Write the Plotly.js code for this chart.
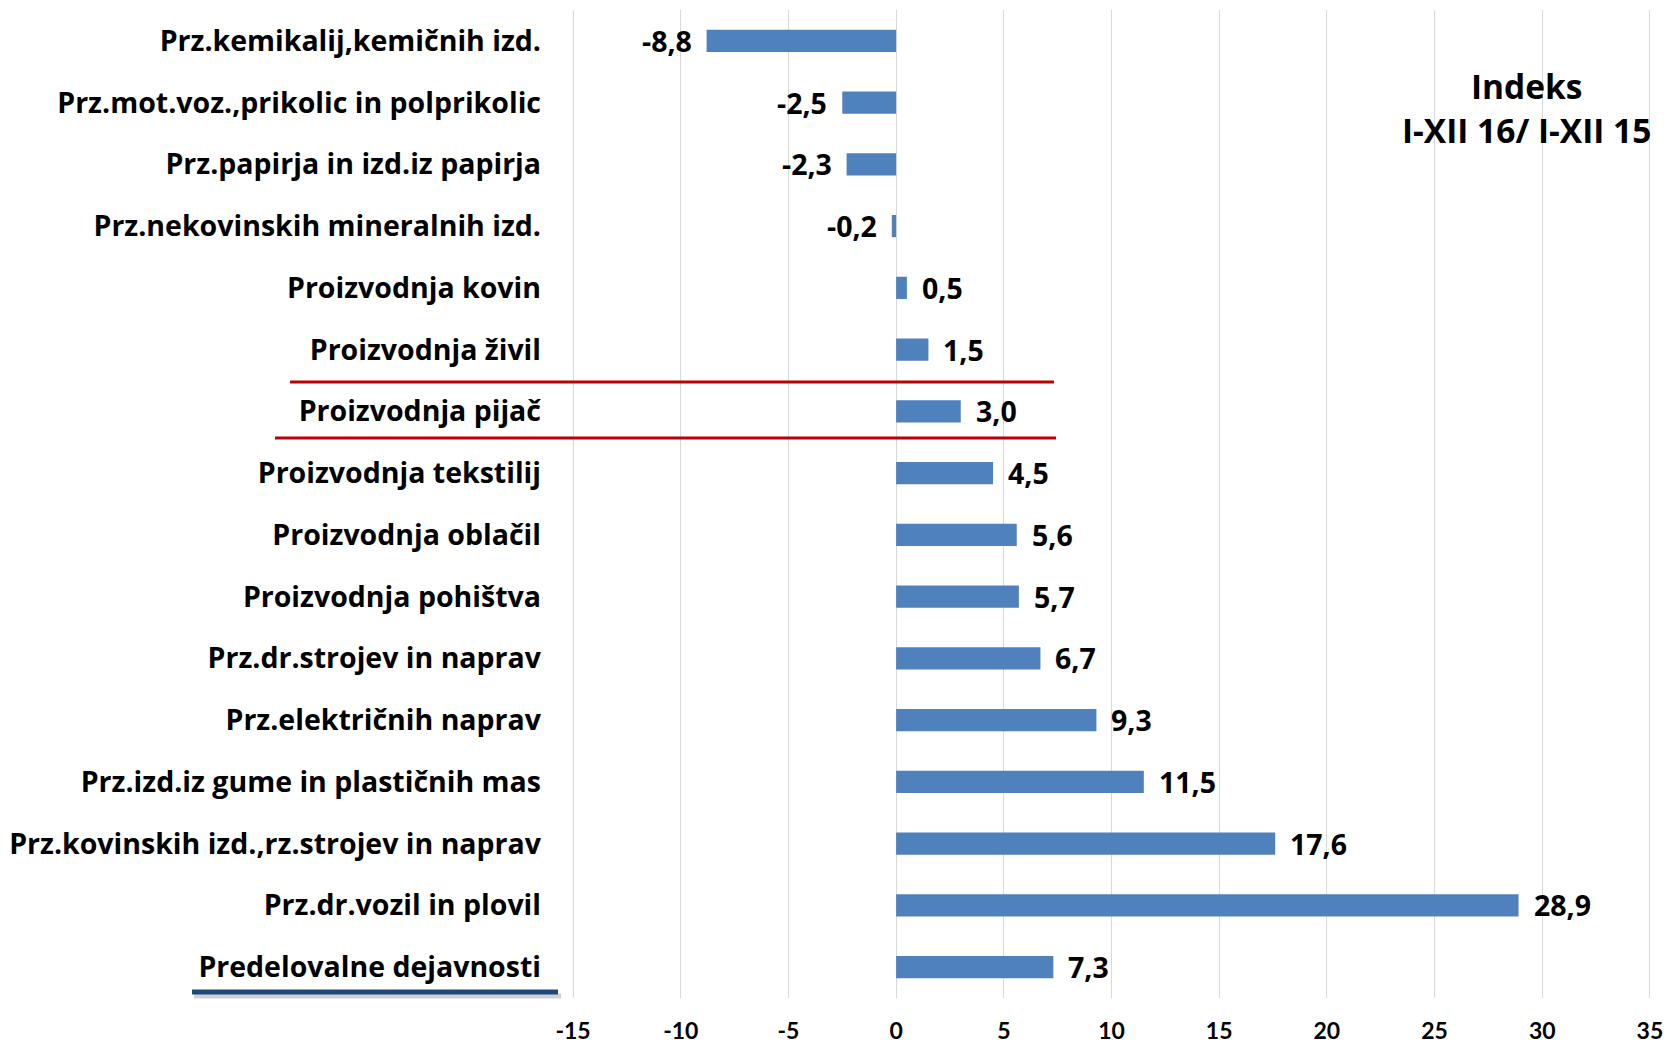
<!DOCTYPE html>
<html>
<head>
<meta charset="utf-8">
<script src="https://cdn.plot.ly/plotly-3.0.1.min.js"></script>
<style>html,body{margin:0;padding:0;background:#fff}#chart{width:1673px;height:1044px}</style>
</head>
<body>
<div id="chart"></div>
<script>
const categories = [
  "Prz.kemikalij,kemičnih izd.",
  "Prz.mot.voz.,prikolic in polprikolic",
  "Prz.papirja in izd.iz papirja",
  "Prz.nekovinskih mineralnih izd.",
  "Proizvodnja kovin",
  "Proizvodnja živil",
  "Proizvodnja pijač",
  "Proizvodnja tekstilij",
  "Proizvodnja oblačil",
  "Proizvodnja pohištva",
  "Prz.dr.strojev in naprav",
  "Prz.električnih naprav",
  "Prz.izd.iz gume in plastičnih mas",
  "Prz.kovinskih izd.,rz.strojev in naprav",
  "Prz.dr.vozil in plovil",
  "Predelovalne dejavnosti"
];
const values = [-8.8, -2.5, -2.3, -0.2, 0.5, 1.5, 3.0, 4.5, 5.6, 5.7, 6.7, 9.3, 11.5, 17.6, 28.9, 7.3];
const xTicks = [-15, -10, -5, 0, 5, 10, 15, 20, 25, 30, 35];
const titleText = "Indeks<br>I-XII 16/ I-XII 15";

const FONT = "'Open Sans', sans-serif";
const TICKFONT = "Lato, sans-serif";
const fmt = v => v.toFixed(1).replace(".", ",");

const labelAnnotations = values.map((v, i) => ({
  x: v, y: categories[i], xref: "x", yref: "y",
  text: fmt(v), showarrow: false,
  xanchor: v < 0 ? "right" : "left",
  xshift: v < 0 ? -13 : 13,
  font: {family: FONT, size: 28.5, color: "#000", weight: 700}
}));

const trace = {
  type: "bar", orientation: "h",
  x: values, y: categories,
  marker: {color: "#4F81BD", line: {color: "#4F81BD", width: 0}},
  width: 0.36,
  hoverinfo: "x+y"
};

// plot area in px: left 572, width 1079; top 10, height 988
const px = p => (p - 572) / 1079;
const py = p => (998 - p) / 988;

const layout = {
  width: 1673, height: 1044,
  margin: {l: 572, r: 22, t: 10, b: 46},
  paper_bgcolor: "#fff", plot_bgcolor: "#fff",
  showlegend: false,
  xaxis: {
    range: [-15.05, 35.05],
    tickvals: xTicks,
    ticktext: xTicks.map(String),
    showgrid: true, gridcolor: "#d9d9d9", gridwidth: 1,
    zeroline: false, showline: false, ticks: "",
    ticklabelstandoff: 17,
    tickfont: {family: TICKFONT, size: 23, color: "#000", weight: 700}
  },
  yaxis: {
    type: "category",
    autorange: "reversed",
    showgrid: false, zeroline: false, showline: false, ticks: "",
    ticklabelstandoff: 30,
    tickfont: {family: FONT, size: 28.5, color: "#000", weight: 700}
  },
  annotations: labelAnnotations.concat([{
    xref: "paper", yref: "paper",
    x: px(1526), y: py(108),
    xanchor: "center", yanchor: "middle",
    text: titleText, showarrow: false, align: "center",
    font: {family: FONT, size: 33.5, color: "#000", weight: 700}
  }]),
  shapes: [
    {type: "line", xref: "paper", yref: "paper", x0: px(290), x1: px(1054), y0: py(382), y1: py(382),
     line: {color: "#C00000", width: 3}},
    {type: "line", xref: "paper", yref: "paper", x0: px(275), x1: px(1056), y0: py(438), y1: py(438),
     line: {color: "#C00000", width: 3}},
    {type: "line", xref: "paper", yref: "paper", x0: px(194), x1: px(561), y0: py(996), y1: py(996),
     line: {color: "rgba(0,0,0,0.18)", width: 5}},
    {type: "line", xref: "paper", yref: "paper", x0: px(192), x1: px(558), y0: py(992), y1: py(992),
     line: {color: "#1F497D", width: 5}}
  ]
};

Plotly.newPlot("chart", [trace], layout, {displayModeBar: false, staticPlot: true});
</script>
</body>
</html>
